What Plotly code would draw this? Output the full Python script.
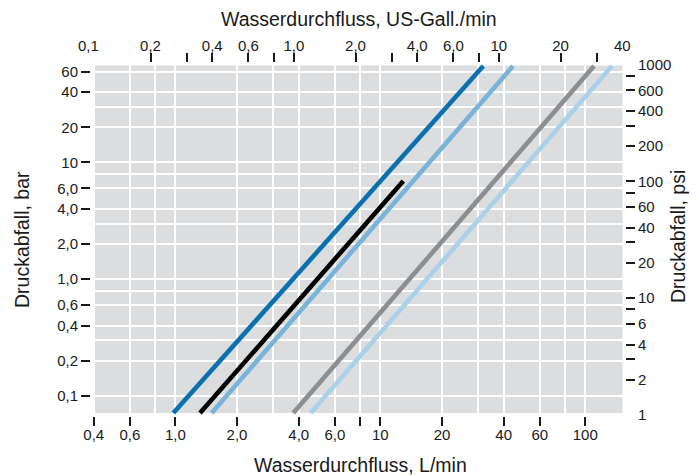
import math
import plotly.graph_objects as go

# ---------------- data ----------------
# each curve: flow in L/min at its two ends, pressure drop in bar at the two ends
series_names = ["Kurve 1", "Kurve 2", "Kurve 3", "Kurve 4", "Kurve 5"]
series_colors = ["#0a71ae", "#78b3da", "#000000", "#8d8e90", "#a9d2ea"]
flow_dark_blue = [0.978, 31.8]
bar_dark_blue = [0.0714, 67.0]
flow_black = [1.32, 12.95]
bar_black = [0.0714, 6.94]
flow_mid_blue = [1.505, 44.4]
bar_mid_blue = [0.0714, 67.0]
flow_gray = [3.763, 110.3]
bar_gray = [0.0714, 67.0]
flow_light_blue = [4.577, 135.0]
bar_light_blue = [0.0714, 67.0]

# axis ticks
lmin_ticks = [0.4, 0.6, 1, 2, 4, 6, 8, 10, 20, 40, 60, 100]
lmin_labels = ["0,4", "0,6", "1,0", "2,0", "4,0", "6,0", "", "10", "20", "40", "60", "100"]
gal_ticks = [0.2, 0.3, 0.4, 0.6, 0.8, 1, 2, 3, 4, 6, 8, 10, 20, 30]
gal_labels = ["0,2", "", "0,4", "0,6", "", "1,0", "2,0", "", "4,0", "6,0", "", "10", "20", ""]
gal_extra_labels = [(0.1, "0,1"), (40, "40")]
bar_ticks = [0.1, 0.2, 0.4, 0.6, 1, 2, 4, 6, 10, 20, 40, 60]
bar_labels = ["0,1", "0,2", "0,4", "0,6", "1,0", "2,0", "4,0", "6,0", "10", "20", "40", "60"]
psi_ticks = [2, 3, 4, 6, 8, 10, 20, 30, 40, 60, 80, 100, 200, 300, 400, 600, 800]
psi_labels = ["2", "", "4", "6", "", "10", "20", "", "40", "60", "", "100", "200", "", "400", "600", ""]
psi_extra_labels = [(1, "1"), (1000, "1000")]
grid_lmin = [0.4, 0.6, 0.8, 1, 2, 3, 4, 6, 8, 10, 20, 30, 40, 60, 80, 100]
grid_bar = [0.1, 0.2, 0.3, 0.4, 0.6, 0.8, 1, 2, 3, 4, 6, 8, 10, 20, 30, 40, 60]

L_PER_GAL = 3.7854
PSI_PER_BAR = 14.5038

# ---------------- layout geometry ----------------
OFF = 8                       # default body margin of the html page
W, H = 699 - 2 * OFF, 476 - OFF
PL, PR, PT, PB = 91, 625, 63, 416     # plot area in window pixels
ML, MT = PL - OFF, PT - OFF
MR, MB = W - (PR - OFF), H - (PB - OFF)
PW, PH = PR - PL, PB - PT
x_range = [-0.4112, 2.1937]          # log10 L/min
y_range = [-1.1717, 1.8518]          # log10 bar
x2_range = [v - math.log10(L_PER_GAL) for v in x_range]
y2_range = [v + math.log10(PSI_PER_BAR) for v in y_range]
PAD = 2.5


def px_x(xw):
    return (xw - PL) / PW


def px_y(yw):
    return (PB - yw) / PH


def gal_to_paper(v):
    return (math.log10(v) - x2_range[0]) / (x2_range[1] - x2_range[0])


def psi_to_paper(v):
    return (math.log10(v) - y2_range[0]) / (y2_range[1] - y2_range[0])


FONT = "Liberation Sans, Arial, Helvetica, sans-serif"
TXT = "#1a1a1a"
TICK_FONT = dict(family=FONT, size=15, color=TXT)
TITLE_FONT = dict(family=FONT, size=19.5, color=TXT)

fig = go.Figure()
flows = [flow_dark_blue, flow_mid_blue, flow_black, flow_gray, flow_light_blue]
bars = [bar_dark_blue, bar_mid_blue, bar_black, bar_gray, bar_light_blue]
colors = [series_colors[0], series_colors[1], series_colors[2], series_colors[3], series_colors[4]]
names = [series_names[0], series_names[1], series_names[2], series_names[3], series_names[4]]
order = [4, 3, 1, 2, 0]
for i in order:
    fig.add_trace(go.Scatter(x=flows[i], y=bars[i], mode="lines", name=names[i],
                             line=dict(color=colors[i], width=4.6),
                             showlegend=False, hoverinfo="skip", xaxis="x", yaxis="y"))

# empty helper traces so the secondary axes are created
fig.add_trace(go.Scatter(x=[], y=[], xaxis="x2", yaxis="y2", showlegend=False, hoverinfo="skip"))
fig.add_trace(go.Scatter(x=[], y=[], xaxis="x3", yaxis="y3", showlegend=False, hoverinfo="skip"))

tick_common = dict(ticks="outside", ticklen=9, tickwidth=1.6, tickcolor=TXT,
                   tickfont=TICK_FONT, showgrid=False, showline=False, zeroline=False,
                   automargin=False)
grid_common = dict(showticklabels=False, ticks="", showgrid=True, gridcolor="white",
                   gridwidth=1.6, showline=False, zeroline=False, automargin=False)

fig.update_layout(
    template="none",
    width=W, height=H,
    margin=dict(l=ML, r=MR, t=MT, b=MB, pad=0, autoexpand=False),
    paper_bgcolor="white", plot_bgcolor="white",
    xaxis=dict(type="log", range=x_range, tickmode="array", tickvals=lmin_ticks,
               ticktext=lmin_labels, side="bottom", anchor="y", ticklabelstandoff=-4,
               **tick_common),
    yaxis=dict(type="log", range=y_range, tickmode="array", tickvals=bar_ticks,
               ticktext=bar_labels, side="left", anchor="x", **tick_common),
    xaxis2=dict(type="log", range=x2_range, tickmode="array", tickvals=gal_ticks,
                ticktext=gal_labels, side="top", overlaying="x", anchor="y",
                ticklabelstandoff=-4, **tick_common),
    yaxis2=dict(type="log", range=y2_range, tickmode="array", tickvals=psi_ticks,
                ticktext=psi_labels, side="right", overlaying="y", anchor="x", **tick_common),
    xaxis3=dict(type="log", range=x_range, tickmode="array", tickvals=grid_lmin,
                overlaying="x", anchor="y3", **grid_common),
    yaxis3=dict(type="log", range=y_range, tickmode="array", tickvals=grid_bar,
                overlaying="y", anchor="x3", **grid_common),
)

# gray plotting field (slightly inset so the tick marks stand free)
fig.add_shape(type="rect", xref="x domain", yref="y domain",
              x0=PAD / PW, x1=1 - PAD / PW, y0=(PAD + 0.5) / PH, y1=1 - PAD / PH,
              fillcolor="#dcdddf", line=dict(width=0), layer="below")

annotations = []
for v, t in gal_extra_labels:
    annotations.append(dict(x=gal_to_paper(v), xref="paper", y=1, yref="paper", text=t,
                            showarrow=False, xanchor="center", yanchor="bottom", yshift=7,
                            font=TICK_FONT))
for v, t in psi_extra_labels:
    annotations.append(dict(x=1, xref="paper", y=psi_to_paper(v), yref="paper", text=t,
                            showarrow=False, xanchor="left", yanchor="middle", xshift=11,
                            font=TICK_FONT))
annotations += [
    dict(text="Wasserdurchfluss, US-Gall./min", x=px_x(359), y=px_y(19),
         xref="paper", yref="paper", showarrow=False, yanchor="middle", font=TITLE_FONT),
    dict(text="Wasserdurchfluss, L/min", x=px_x(360), y=px_y(465),
         xref="paper", yref="paper", showarrow=False, yanchor="middle", font=TITLE_FONT),
    dict(text="Druckabfall, bar", x=px_x(22), y=px_y(240),
         xref="paper", yref="paper", showarrow=False, textangle=-90,
         xanchor="center", yanchor="middle", font=TITLE_FONT),
    dict(text="Druckabfall, psi", x=px_x(678), y=px_y(237),
         xref="paper", yref="paper", showarrow=False, textangle=-90,
         xanchor="center", yanchor="middle", font=TITLE_FONT),
]
fig.update_layout(annotations=annotations)

fig.write_html("out.html")
